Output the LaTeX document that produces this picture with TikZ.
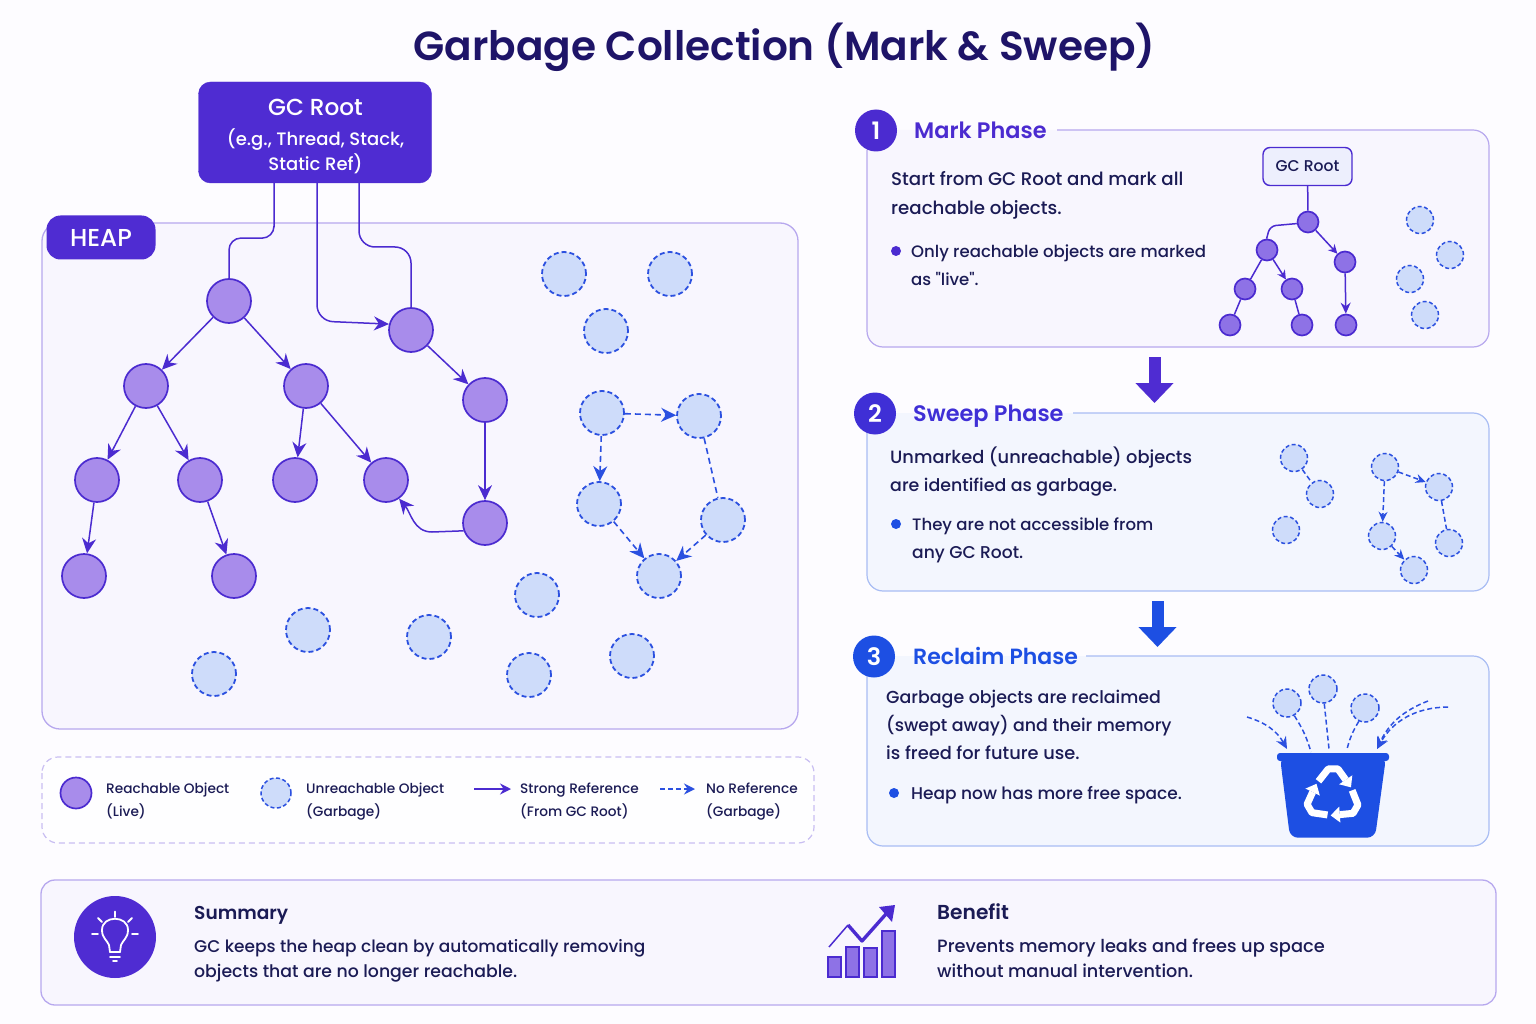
\documentclass[tikz,border=0pt]{standalone}
\usepackage{fontspec}
\setmainfont{Poppins Medium}
\newfontfamily\semi{Poppins SemiBold}
\newfontfamily\rawfont{Poppins Medium}
\usetikzlibrary{arrows.meta,calc}
\definecolor{pg}{HTML}{FDFCFF}
\definecolor{ink}{HTML}{1B1B55}
\definecolor{ttl}{HTML}{1E1468}
\definecolor{vio}{HTML}{4F2CD2}
\definecolor{blu}{HTML}{1D4FE3}
\definecolor{mid}{HTML}{3F2FD6}
\definecolor{livef}{HTML}{A88CEB}
\definecolor{liveb}{HTML}{4B2BD0}
\definecolor{smallf}{HTML}{8E72E6}
\definecolor{garbf}{HTML}{CEDCFA}
\definecolor{garbb}{HTML}{2B50E0}
\definecolor{panv}{HTML}{F8F6FE}
\definecolor{panb}{HTML}{F3F6FE}
\definecolor{bordv}{HTML}{B7A8EE}
\definecolor{bordb}{HTML}{A9BDF4}
\tikzset{
 txt/.style={anchor=base west,inner sep=0pt,text=ink,font=\fontsize{17.8}{23}\selectfont},
 txw/.style={anchor=base west,inner sep=0pt,text=ink,font=\fontsize{18.2}{23}\selectfont},
 txr/.style={anchor=base west,inner sep=0pt,text=ink,font=\fontsize{17.4}{23}\selectfont},
 txs/.style={anchor=base west,inner sep=0pt,text=ink,font=\fontsize{16.55}{23}\selectfont},
 txm/.style={anchor=base west,inner sep=0pt,text=ink,font=\fontsize{17.1}{23}\selectfont},
 lgd/.style={anchor=base west,inner sep=0pt,text=ink,font=\fontsize{13.7}{18}\selectfont},
 head/.style={anchor=base west,inner sep=0pt,text=ink,font=\fontsize{18.6}{24}\selectfont\semi},
 phase/.style={anchor=base west,inner sep=0pt,font=\fontsize{22.4}{28}\selectfont\semi},
 num/.style={circle,minimum size=42pt,inner sep=0pt,text=white,font=\fontsize{24}{28}\selectfont\semi},
 live/.style={circle,draw=liveb,fill=livef,line width=1.7pt,minimum size=44pt,inner sep=0pt},
 garb/.style={circle,draw=garbb,fill=garbf,line width=1.8pt,dash pattern=on 5pt off 3pt,minimum size=44pt,inner sep=0pt},
 slive/.style={circle,draw=liveb,fill=smallf,line width=1.7pt,minimum size=21pt,inner sep=0pt},
 sgarb/.style={circle,draw=garbb,fill=garbf,line width=1.5pt,dash pattern=on 4pt off 2.5pt,minimum size=27pt,inner sep=0pt},
 bul/.style={circle,minimum size=10pt,inner sep=0pt},
 sref/.style={draw=liveb,line width=1.5pt,-{Stealth[length=15pt,width=14pt]}},
 sline/.style={draw=liveb,line width=1.5pt},
 dref/.style={draw=garbb,line width=1.6pt,dash pattern=on 6pt off 4pt,-{Stealth[length=15pt,width=14pt]}},
 dline/.style={draw=garbb,line width=1.6pt,dash pattern=on 6pt off 4pt},
 ssref/.style={draw=liveb,line width=1.5pt,-{Stealth[length=9pt,width=9pt]}},
 sdref/.style={draw=garbb,line width=1.5pt,dash pattern=on 5pt off 3pt,-{Stealth[length=10pt,width=9pt]}},
 sdline/.style={draw=garbb,line width=1.5pt,dash pattern=on 5pt off 3pt},
 bigarrow/.style={line width=12pt,-{Triangle[length=20pt,width=37pt]}},
}
\begin{document}
\begin{tikzpicture}[x=1pt,y=-1pt]
\fill[pg] (0,0) rectangle (1536,1024);
\useasboundingbox (0,0) rectangle (1536,1024);
\node[anchor=base,inner sep=0pt,text=ttl,font=\fontsize{40.6}{50}\selectfont\semi] (title) at (784.5,61) {Garbage Collection (Mark \& Sweep)};

% heap
\draw[fill=panv,draw=bordv,line width=1.3pt,rounded corners=18pt] (42,223) rectangle (798,729);
\node[fill=vio,rounded corners=14pt,minimum width=109pt,minimum height=44pt,inner sep=0pt,text=white,font=\fontsize{24.5}{28}\selectfont] (heap) at (101,237.5) {HEAP};
\node[fill=vio,draw=liveb,rounded corners=12pt,minimum width=233pt,minimum height=101pt,inner sep=0pt] (root) at (315,132.5) {};
\node[inner sep=0pt,text=white,align=center,font=\fontsize{18}{25}\selectfont] (rootlbl) at (315.5,136.7) {{\fontsize{23.2}{28}\selectfont GC Root}\\[5pt](e.g., Thread, Stack,\\Static Ref)};

\foreach \n/\x/\y in {a/229/301,b/146/386,c/306/386,d/97/480,e/200/480,f/295/480,g/386/480,h/84/576,i/234/576,j/411/330,k/485/400,l/485/523}
  \node[live] (\n) at (\x,\y) {};
\foreach \n/\x/\y in {g1/564/274,g2/670/274,g3/606/331,g4/602/413,g5/699/416,g6/599/504,g7/723/520,g8/659/576,g9/537/595,g10/308/630,g11/429/637,g12/214/674,g13/529/675,g14/632/656}
  \node[garb] (\n) at (\x,\y) {};

\draw[sline] ($(root.south)+(-41,0)$) -- ++(0,44) [rounded corners=12pt] -- ++(0,11) -- (229,238) -- (a.north);
\draw[sref] ($(root.south)+(2,0)$) [rounded corners=16pt] -- (317,321) -- (j.165);
\draw[sline] ($(root.south)+(44,0)$) [rounded corners=16pt] -- (359,247) -- (411,247) -- (j.north);
\foreach \p/\q in {a/b,a/c,b/d,b/e,c/f,c/g,d/h,e/i,j/k,k/l}
  \draw[sref] (\p) -- (\q);
\draw[sref] (l.200) -- (432,532) to[out=180,in=-50] (g.-55);
\draw[dref] (g4) -- (g5);
\draw[dref] (g4) -- (g6);
\draw[dline] (g5) -- (g7);
\draw[dref] (g6) -- (g8);
\draw[dref] (g7) -- (g8);

% legend
\draw[draw=bordv!75,line width=1.2pt,dash pattern=on 6pt off 4pt,fill=white!60!pg,rounded corners=16pt] (42,757) rectangle (814,843);
\node[live,minimum size=31pt] (l1) at (76,793) {};
\node[garb,minimum size=30pt,dash pattern=on 4pt off 2.5pt,line width=1.5pt] (l2) at (276,793) {};
\node[lgd] (l1a) at (106,793.5) {Reachable Object};
\node[lgd] (l1b) at (106,816.5) {(Live)};
\node[lgd] (l2a) at (306,793.5) {Unreachable Object};
\node[lgd] (l2b) at (306,816.5) {(Garbage)};
\coordinate (s1) at (474,789); \coordinate (s2) at (511,789);
\draw[sref,-{Stealth[length=11pt,width=11pt]}] (s1) -- (s2);
\node[lgd] (l3a) at (520,793.5) {Strong Reference};
\node[lgd] (l3b) at (520,816.5) {(From GC Root)};
\coordinate (n1) at (660,789); \coordinate (n2) at (695,789);
\draw[dref,dash pattern=on 5pt off 3pt,-{Stealth[length=11pt,width=11pt]}] (n1) -- (n2);
\node[lgd] (l4a) at (706,793.5) {No Reference};
\node[lgd] (l4b) at (706,816.5) {(Garbage)};

% mark
\fill[panv,rounded corners=16pt] (867,130) rectangle (1489,347);
\draw[draw=bordv,line width=1.2pt,rounded corners=16pt] (1057,130) -- (1489,130) -- (1489,347) -- (867,347) -- (867,150);
\node[num,fill=liveb] (n1c) at (876,130.5) {1};
\node[phase,text=liveb] (p1) at (914,138.5) {Mark Phase};
\node[txw] (m1) at (891,185.5) {Start from GC Root and mark all};
\node[txw] (m2) at (891,214.5) {reachable objects.};
\node[bul,fill=liveb] (b1) at (896,251) {};
\node[txs] (m3) at (911,257.5) {Only reachable objects are marked};
\node[txs] (m4) at (911,285.5) {as {\rawfont "}live{\rawfont "}.};
\node[draw=liveb,fill=panv!70!bordb!60,rounded corners=7pt,line width=1.4pt,minimum width=89pt,minimum height=38pt,inner sep=0pt,text=ink,font=\fontsize{15.6}{20}\selectfont] (mr) at (1307.5,166.5) {GC Root};
\foreach \n/\x/\y in {ma/1308/222,mb/1267/250,mc/1345/262,md/1245/289,me/1292/289,mf/1230/325,mg/1302/325,mh/1346/325}
  \node[slive] (\n) at (\x,\y) {};
\foreach \n/\x/\y in {mp/1420/220,mq/1450/255,mr2/1410/279,ms/1425/315}
  \node[sgarb] (\n) at (\x,\y) {};
\draw[sline] (mr) -- (ma);
\draw[sline,rounded corners=6pt] (ma.188) -- (1270,226) -- (mb.92);
\draw[ssref] (ma) -- (mc);
\draw[sline] (mb) -- (md);
\draw[ssref] (mb) -- (me);
\draw[sline] (md) -- (mf);
\draw[sline] (me) -- (mg);
\draw[sref,-{Stealth[length=11pt,width=10pt]}] (mc) -- (mh);

% arrow 1
\coordinate (ar1a) at (1154.5,357); \coordinate (ar1b) at (1154.5,403);
\draw[bigarrow,draw=vio,fill=vio] (ar1a) -- (ar1b);

% sweep
\fill[panb,rounded corners=16pt] (867,413) rectangle (1489,591);
\draw[draw=bordb,line width=1.2pt,rounded corners=16pt] (1073,413) -- (1489,413) -- (1489,591) -- (867,591) -- (867,433);
\node[num,fill=mid] (n2c) at (875,413.5) {2};
\node[phase,text=mid] (p2) at (913,421.5) {Sweep Phase};
\node[txt] (w1) at (890,463.5) {Unmarked (unreachable) objects};
\node[txr] (w2) at (890,491.5) {are identified as garbage.};
\node[bul,fill=blu] (b2) at (896,524) {};
\node[txs] (w3) at (912,530.5) {They are not accessible from};
\node[txm] (w4) at (912,558.5) {any GC Root.};
\foreach \n/\x/\y in {wa/1294/458,wb/1320/494,wc/1286/530,wd/1385/467,we/1439/487,wf/1382/536,wg/1449/543,wh/1414/570}
  \node[sgarb] (\n) at (\x,\y) {};
\draw[sdline] (wa) -- (wb);
\draw[sdref] (wd) -- (we);
\draw[sdref] (wd) -- (wf);
\draw[sdline] (we) -- (wg);
\draw[sdref] (wf) -- (wh);

% arrow 2
\coordinate (ar2a) at (1157.5,601); \coordinate (ar2b) at (1157.5,647);
\draw[bigarrow,draw=blu,fill=blu] (ar2a) -- (ar2b);

% reclaim
\fill[panb,rounded corners=16pt] (867,656) rectangle (1489,846);
\draw[draw=bordb,line width=1.2pt,rounded corners=16pt] (1086,656) -- (1489,656) -- (1489,846) -- (867,846) -- (867,676);
\node[num,fill=blu] (n3c) at (874,656.5) {3};
\node[phase,text=blu,font=\fontsize{22}{28}\selectfont\semi] (p3) at (913,664.5) {Reclaim Phase};
\node[txr] (r1) at (886,703.5) {Garbage objects are reclaimed};
\node[txr] (r2) at (886,731.5) {(swept away) and their memory};
\node[txt] (r3) at (886,759.5) {is freed for future use.};
\node[bul,fill=blu] (b3) at (894,793) {};
\node[txt,font=\fontsize{17}{23}\selectfont] (r4) at (911,799.5) {Heap now has more free space.};
% bucket
\fill[blu,rounded corners=8pt] (1280,757) -- (1290,837.7) -- (1375,837.7) -- (1386,757) -- cycle;
\fill[blu,rounded corners=3pt] (1277,753) rectangle (1389,761);
\foreach \r in {0,120,240}{
 \begin{scope}[shift={(1332.7,795.5)},rotate=\r,scale=1.12]
  \draw[white,line width=7pt,line join=round] (-12.7,-12.7) -- (-4,-23.7) -- (4.7,-23.7) -- (11.6,-14);
  \fill[white] (17.5,-18) -- (16.3,-7.3) -- (5.7,-10) -- cycle;
 \end{scope}
}
\node[sgarb,minimum size=28pt] (c1) at (1287,703) {};
\node[sgarb,minimum size=28pt] (c2) at (1323,689) {};
\node[sgarb,minimum size=28pt] (c3) at (1365,708) {};
\coordinate (t1) at (1311,752); \coordinate (t2) at (1329,749); \coordinate (t3) at (1347,749);
\coordinate (f1) at (1247,717); \coordinate (e1) at (1287,749);
\coordinate (f2) at (1428,701); \coordinate (f3) at (1448,707); \coordinate (e2) at (1377,749);
\draw[sdline] (c1.-60) to[bend left=8] (t1);
\draw[sdline] (c2.-85) -- (t2);
\draw[sdline] (c3.-115) to[bend right=8] (t3);
\draw[sdref,-{Stealth[length=12pt,width=11pt]}] (f1) to[bend left=22] (e1);
\draw[sdref,-{Stealth[length=12pt,width=11pt]}] (f2) to[bend right=22] (e2);
\draw[sdref,-{Stealth[length=12pt,width=11pt]}] (f3) to[bend right=30] (e2);

% summary
\draw[fill=panv,draw=bordv,line width=1.3pt,rounded corners=14pt] (41,880) rectangle (1496,1005);
\node[circle,fill=vio,minimum size=82pt,inner sep=0pt] (bulb) at (115,937) {};
\begin{scope}[white,line width=1.8pt,line cap=round]
 \draw (115,911.5) -- (115,917);
 \draw (98,918) -- (102,922);
 \draw (132,918) -- (128,922);
 \draw (92,934) -- (98,934);
 \draw (132,934) -- (138,934);
 \draw[line join=round] (110,952) -- (109,945) .. controls (107,940) and (102,938) .. (102,930) .. controls (102,915) and (128,915) .. (128,930) .. controls (128,938) and (123,940) .. (121,945) -- (120,952) -- cycle;
 \draw (110,952) -- (120,952);
 \draw (110,957) -- (120,957);
 \draw (113,961) -- (117,961);
\end{scope}
\node[head] (s0) at (194,919.5) {Summary};
\node[txt,font=\fontsize{16.95}{23}\selectfont] (s1t) at (194,952.5) {GC keeps the heap clean by automatically removing};
\node[txt,font=\fontsize{17.3}{23}\selectfont] (s2t) at (194,977.5) {objects that are no longer reachable.};
\begin{scope}[draw=liveb,fill=smallf,line width=1.5pt]
 \filldraw (828,957) rectangle (841,977);
 \filldraw (846,947) rectangle (859,977);
 \filldraw (864,948) rectangle (877,977);
 \filldraw (882,931) rectangle (895,977);
\end{scope}
\draw[liveb,line width=1.5pt] (829,947) -- (848,925);
\draw[liveb,line width=3.4pt,line join=round] (848,925) -- (862,941) -- (886,914);
\fill[liveb] (879,907) -- (895,905) -- (892,922) -- cycle;
\node[head,font=\fontsize{20.2}{24}\selectfont\semi] (b0) at (937,919.5) {Benefit};
\node[txt] (b1t) at (937,952.5) {Prevents memory leaks and frees up space};
\node[txt,font=\fontsize{17.6}{23}\selectfont] (b2t) at (937,977.5) {without manual intervention.};
\end{tikzpicture}
\end{document}
